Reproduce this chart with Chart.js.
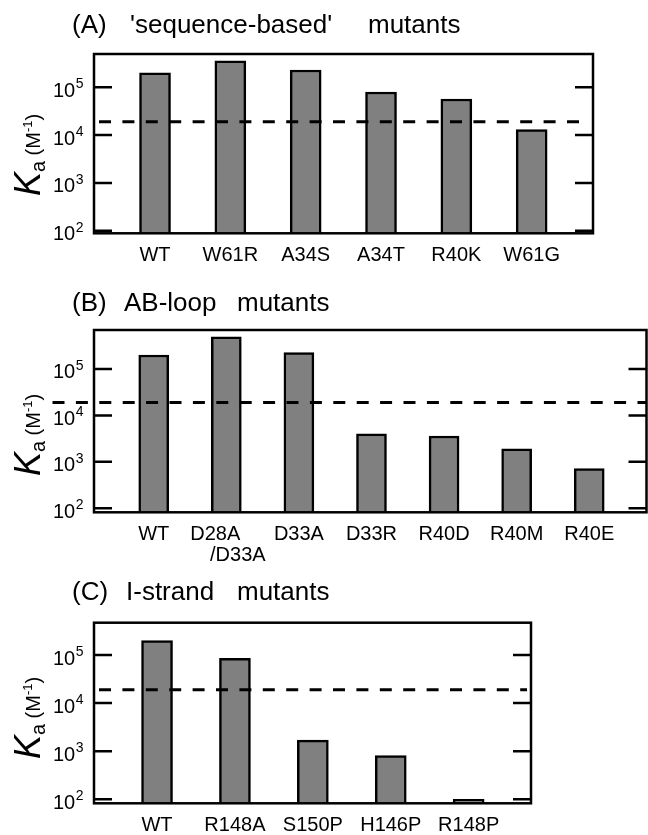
<!DOCTYPE html>
<html>
<head>
<meta charset="utf-8">
<script src="https://cdn.jsdelivr.net/npm/chart.js@4/dist/chart.umd.min.js"></script>
<style>
html,body{margin:0;padding:0;background:#fff;}
.wrap{position:relative;width:648px;height:835px;overflow:hidden;}
canvas{position:absolute;left:0;top:0;}
</style>
</head>
<body>
<div class="wrap">
<canvas id="cA" width="648" height="835"></canvas>
<canvas id="cB" width="648" height="835"></canvas>
<canvas id="cC" width="648" height="835"></canvas>
</div>
<script>
// ---------- data ----------
const labelsA = ['WT', 'W61R', 'A34S', 'A34T', 'R40K', 'W61G'];
const valuesA = [2.0e5, 3.6e5, 2.3e5, 8.0e4, 5.7e4, 1.3e4];

const labelsB = ['WT', ['D28A', '/D33A'], 'D33A', 'D33R', 'R40D', 'R40M', 'R40E'];
const valuesB = [2.0e5, 4.9e5, 2.25e5, 4.0e3, 3.6e3, 1.9e3, 720];

const labelsC = ['WT', 'R148A', 'S150P', 'H146P', 'R148P'];
const valuesC = [2.0e5, 8.5e4, 1.7e3, 810, 100];

const titleA = ['(A)', "'sequence-based'", 'mutants'];
const titleB = ['(B)', 'AB-loop', 'mutants'];
const titleC = ['(C)', 'I-strand', 'mutants'];

const yTickValues = [100, 1000, 10000, 100000];
const yTickExponents = ['2', '3', '4', '5'];
const thresholdKa = 1.9e4;

// ---------- drawing helpers ----------
const FONT = '"Liberation Sans", Arial, Helvetica, sans-serif';

const decor = {
  id: 'decor',
  afterDraw(chart, args, o) {
    const ctx = chart.ctx;
    const a = chart.chartArea;
    const xs = chart.scales.x, ys = chart.scales.y;
    ctx.save();
    ctx.fillStyle = '#000';
    ctx.strokeStyle = '#000';

    // dashed threshold line
    const yd = ys.getPixelForValue(thresholdKa);
    ctx.lineWidth = 3;
    ctx.setLineDash([12, 11.4]);
    ctx.beginPath();
    ctx.moveTo(o.dashFrom, yd);
    ctx.lineTo(o.dashTo, yd);
    ctx.stroke();
    ctx.setLineDash([]);

    // frame
    ctx.lineWidth = 2.5;
    ctx.strokeRect(a.left, a.top, a.right - a.left, a.bottom - a.top);

    // y ticks (inside, both sides) and labels 10^n
    ctx.lineWidth = 2.5;
    yTickValues.forEach((v, i) => {
      const p = ys.getPixelForValue(v);
      ctx.beginPath();
      ctx.moveTo(a.left, p); ctx.lineTo(a.left + 18, p);
      ctx.moveTo(a.right - 18, p); ctx.lineTo(a.right, p);
      ctx.stroke();
      const exp = yTickExponents[i];
      ctx.font = '14px ' + FONT;
      const ew = ctx.measureText(exp).width;
      const xEnd = 83.5;
      ctx.textAlign = 'left';
      ctx.textBaseline = 'alphabetic';
      ctx.fillText(exp, xEnd - ew, p + 1);
      ctx.font = '20px ' + FONT;
      ctx.textAlign = 'right';
      ctx.fillText('10', xEnd - ew - 0.5, p + 9.5);
    });

    // x category labels
    ctx.font = '20px ' + FONT;
    ctx.textAlign = 'center';
    ctx.textBaseline = 'alphabetic';
    o.labels.forEach((lab, i) => {
      const px = xs.getPixelForValue(i);
      if (Array.isArray(lab)) {
        ctx.fillText(lab[0], px - 11, a.bottom + 28);
        ctx.fillText(lab[1], px + 11.5, a.bottom + 48.5);
      } else {
        ctx.fillText(lab, px, a.bottom + 28);
      }
    });

    // panel title
    ctx.font = '26px ' + FONT;
    ctx.textAlign = 'left';
    o.title.forEach((w, i) => ctx.fillText(w, o.titleX[i], o.titleY));

    // y axis title: K_a (M^-1), rotated
    ctx.translate(39.5, o.yTitleY);
    ctx.rotate(-Math.PI / 2);
    const parts = [
      {t: 'K', f: 'italic 36px ' + FONT, dy: 0},
      {t: 'a', f: '20px ' + FONT, dy: 5},
      {t: ' (M', f: '20px ' + FONT, dy: 0},
      {t: '-1', f: '13px ' + FONT, dy: -8},
      {t: ')', f: '20px ' + FONT, dy: 0}
    ];
    let total = 0;
    parts.forEach(p => { ctx.font = p.f; p.w = ctx.measureText(p.t).width; total += p.w; });
    let x = -total / 2;
    ctx.textAlign = 'left';
    parts.forEach(p => { ctx.font = p.f; ctx.fillText(p.t, x, p.dy); x += p.w; });
    ctx.restore();
  }
};

function makeChart(id, labels, values, cfg) {
  const data = values.map((v, i) => ({x: i, y: v}));
  return new Chart(document.getElementById(id), {
    type: 'bar',
    data: {
      datasets: [{
        data: data,
        backgroundColor: '#808080',
        borderColor: '#000',
        borderWidth: 2.5,
        barThickness: cfg.barThickness
      }]
    },
    options: {
      responsive: false,
      animation: false,
      events: [],
      layout: {padding: cfg.pad},
      scales: {
        x: {type: 'linear', offset: false, min: cfg.xMin, max: cfg.xMax, bounds: 'data', display: false},
        y: {type: 'logarithmic', min: cfg.yMin, max: cfg.yMax, bounds: 'data', display: false}
      },
      plugins: {
        legend: {display: false},
        title: {display: false},
        tooltip: {enabled: false},
        decor: {
          labels: labels,
          title: cfg.title,
          titleX: cfg.titleX,
          titleY: cfg.titleY,
          yTitleY: cfg.yTitleY,
          dashFrom: cfg.dashFrom,
          dashTo: cfg.dashTo
        }
      }
    },
    plugins: [decor]
  });
}

makeChart('cA', labelsA, valuesA, {
  pad: {left: 94, right: 55, top: 54, bottom: 835 - 233.3},
  xMin: -0.81, xMax: 5.814, yMin: 88.3, yMax: 4.98e5,
  barThickness: 31, title: titleA, titleX: [72, 130, 368], titleY: 33,
  yTitleY: 155, dashFrom: 99, dashTo: 581
});
makeChart('cB', labelsB, valuesB, {
  pad: {left: 94, right: 1.5, top: 330, bottom: 835 - 512.3},
  xMin: -0.823, xMax: 6.789, yMin: 82, yMax: 6.9e5,
  barThickness: 30, title: titleB, titleX: [72, 124, 237], titleY: 311,
  yTitleY: 435, dashFrom: 52.5, dashTo: 646
});
makeChart('cC', labelsC, valuesC, {
  pad: {left: 94, right: 117, top: 622.7, bottom: 835 - 803.3},
  xMin: -0.809, xMax: 4.80, yMin: 82.6, yMax: 4.7e5,
  barThickness: 31, title: titleC, titleX: [72, 126, 237], titleY: 600,
  yTitleY: 718, dashFrom: 99, dashTo: 527
});
</script>
</body>
</html>
